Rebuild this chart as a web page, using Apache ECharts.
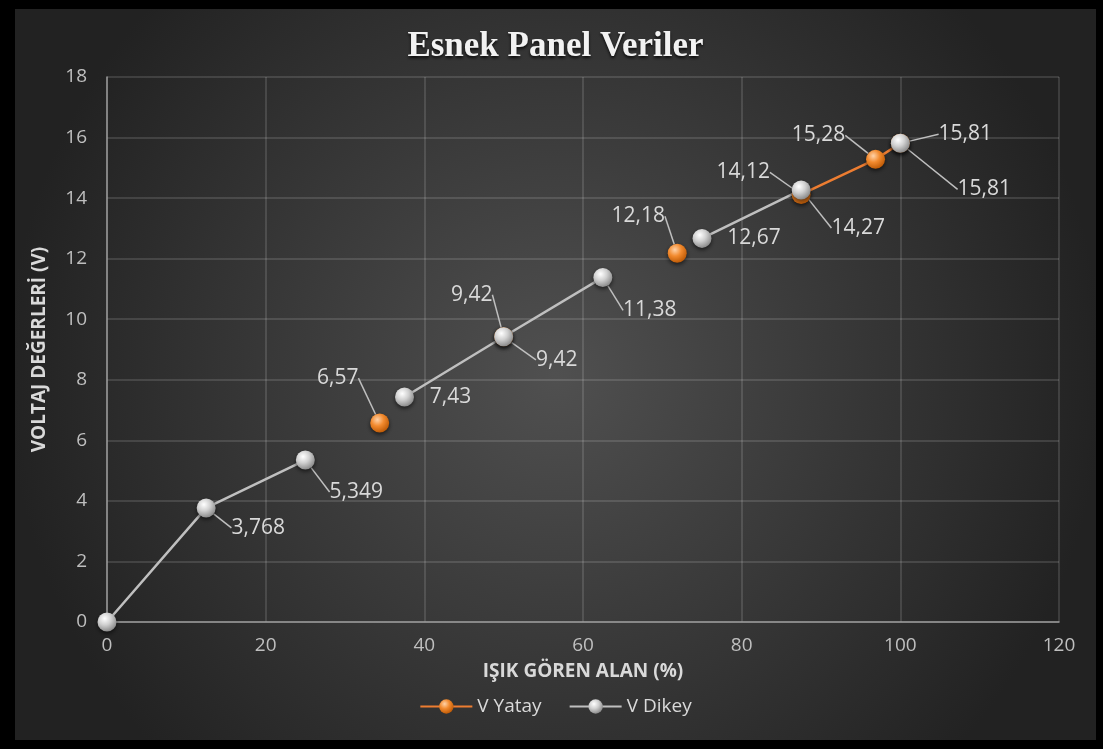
<!DOCTYPE html>
<html>
<head>
<meta charset="utf-8">
<title>Esnek Panel Veriler</title>
<script src="https://cdn.jsdelivr.net/npm/echarts@6/dist/echarts.min.js"></script>
<style>
  html, body { margin: 0; padding: 0; background: #000; }
  #chart { position: absolute; left: 15px; top: 9px; width: 1081px; height: 731px; }
</style>
</head>
<body>
<div id="chart"></div>
<script>
// shared x positions (Excel scatter with gaps between the two series)
const xValues = [0, 12.5, 25, 34.375, 37.5, 50, 62.5, 71.875, 75, 87.5, 96.875, 100]
const vYatay = [null, null, null, 6.57, null, 9.42, null, 12.18, null, 14.12, 15.28, 15.81]
const vDikey = [0, 3.768, 5.349, null, 7.43, 9.42, 11.38, null, 12.67, 14.27, null, 15.81]
const xTicks = [0, 20, 40, 60, 80, 100, 120]
const yTicks = [0, 2, 4, 6, 8, 10, 12, 14, 16, 18]

// label offsets from the marker (px), null = no label
const yatayLabelOffsets = [null, null, null, [-42, -45], null, [-32, -42], null, [-39, -37], null, [-58, -22], [-57, -24], [84, 46]]
const dikeyLabelOffsets = [null, [52, 20], [51, 32], null, [46, 0], [53, 23], [47, 33], null, [52, 0], [57, 38], null, [65, -9]]

const FONT = '"Open Sans", sans-serif'
const textColor = '#d9d9d9'

function sphere(light, mid, dark) {
  return {
    type: 'radial', x: 0.38, y: 0.32, r: 0.75,
    colorStops: [
      { offset: 0, color: light },
      { offset: 0.45, color: mid },
      { offset: 1, color: dark }
    ]
  }
}

function buildData(values, offsets) {
  return xValues.map((x, i) => {
    if (values[i] == null) return [x, '-']
    const o = offsets[i]
    return {
      value: [x, values[i]],
      label: { show: o != null },
      // labels sitting right next to the marker get no leader line
      labelLine: { show: o != null && Math.abs(o[1]) > 5 }
    }
  })
}

function makeSeries(name, values, offsets, lineColor, fill) {
  return {
    name: name,
    type: 'line',
    data: buildData(values, offsets),
    connectNulls: false,
    symbol: 'circle',
    symbolSize: 19,
    lineStyle: { color: lineColor, width: 2.5 },
    itemStyle: {
      color: fill,
      shadowColor: 'rgba(0,0,0,0.6)',
      shadowBlur: 4,
      shadowOffsetY: 2
    },
    label: {
      show: true,
      position: 'inside',
      color: textColor,
      fontSize: 21,
      fontFamily: FONT,
      formatter: p => String(p.value[1]).replace('.', ',')
    },
    labelLine: {
      show: true,
      lineStyle: { color: '#bfbfbf', width: 1.5 }
    },
    labelLayout: function (params) {
      const o = offsets[params.dataIndex]
      return o ? { dx: o[0], dy: o[1] } : {}
    },
    emphasis: { disabled: true }
  }
}

const chart = echarts.init(document.getElementById('chart'))

chart.setOption({
  animation: false,
  backgroundColor: {
    type: 'radial', x: 0.5, y: 0.5, r: 0.75,
    colorStops: [
      { offset: 0, color: '#505050' },
      { offset: 1, color: '#222222' }
    ]
  },
  title: {
    text: 'Esnek Panel Veriler',
    left: 'center',
    top: 15,
    textStyle: {
      fontFamily: '"Liberation Serif", serif',
      fontWeight: 'bold',
      fontSize: 35,
      color: '#f2f2f2',
      textShadowColor: 'rgba(0,0,0,0.8)',
      textShadowBlur: 3,
      textShadowOffsetY: 2
    }
  },
  grid: { left: 92, right: 37, top: 68, bottom: 118 },
  xAxis: {
    type: 'value',
    min: xTicks[0],
    max: xTicks[xTicks.length - 1],
    interval: xTicks[1] - xTicks[0],
    name: 'IŞIK GÖREN ALAN (%)',
    nameLocation: 'middle',
    nameGap: 40,
    nameTextStyle: { color: textColor, fontWeight: 'bold', fontSize: 19, fontFamily: FONT },
    axisLine: { show: true, lineStyle: { color: '#9a9a9a', width: 1.5 } },
    axisTick: { show: false },
    axisLabel: { color: '#bfbfbf', fontSize: 19, fontFamily: FONT, margin: 14 },
    splitLine: { show: true, lineStyle: { color: 'rgba(255,255,255,0.17)', width: 1.5 } }
  },
  yAxis: {
    type: 'value',
    min: yTicks[0],
    max: yTicks[yTicks.length - 1],
    interval: yTicks[1] - yTicks[0],
    name: 'VOLTAJ DEĞERLERİ (V)',
    nameLocation: 'middle',
    nameGap: 58,
    nameTextStyle: { color: textColor, fontWeight: 'bold', fontSize: 19, fontFamily: FONT },
    axisLine: { show: true, lineStyle: { color: '#9a9a9a', width: 1.5 } },
    axisTick: { show: false },
    axisLabel: { color: '#bfbfbf', fontSize: 19, fontFamily: FONT, margin: 20 },
    splitLine: { show: true, lineStyle: { color: 'rgba(255,255,255,0.17)', width: 1.5 } }
  },
  legend: {
    left: 'center',
    top: 683,
    itemWidth: 52,
    itemHeight: 18,
    itemGap: 27,
    textStyle: { color: textColor, fontSize: 19, fontFamily: FONT },
    data: ['V Yatay', 'V Dikey']
  },
  series: [
    makeSeries('V Yatay', vYatay, yatayLabelOffsets, '#ed7d31', sphere('#ffd2a8', '#f28a2e', '#b65300')),
    makeSeries('V Dikey', vDikey, dikeyLabelOffsets, '#bfbfbf', sphere('#ffffff', '#d0d0d0', '#808080'))
  ]
})

window.addEventListener('resize', () => chart.resize())
</script>
</body>
</html>
